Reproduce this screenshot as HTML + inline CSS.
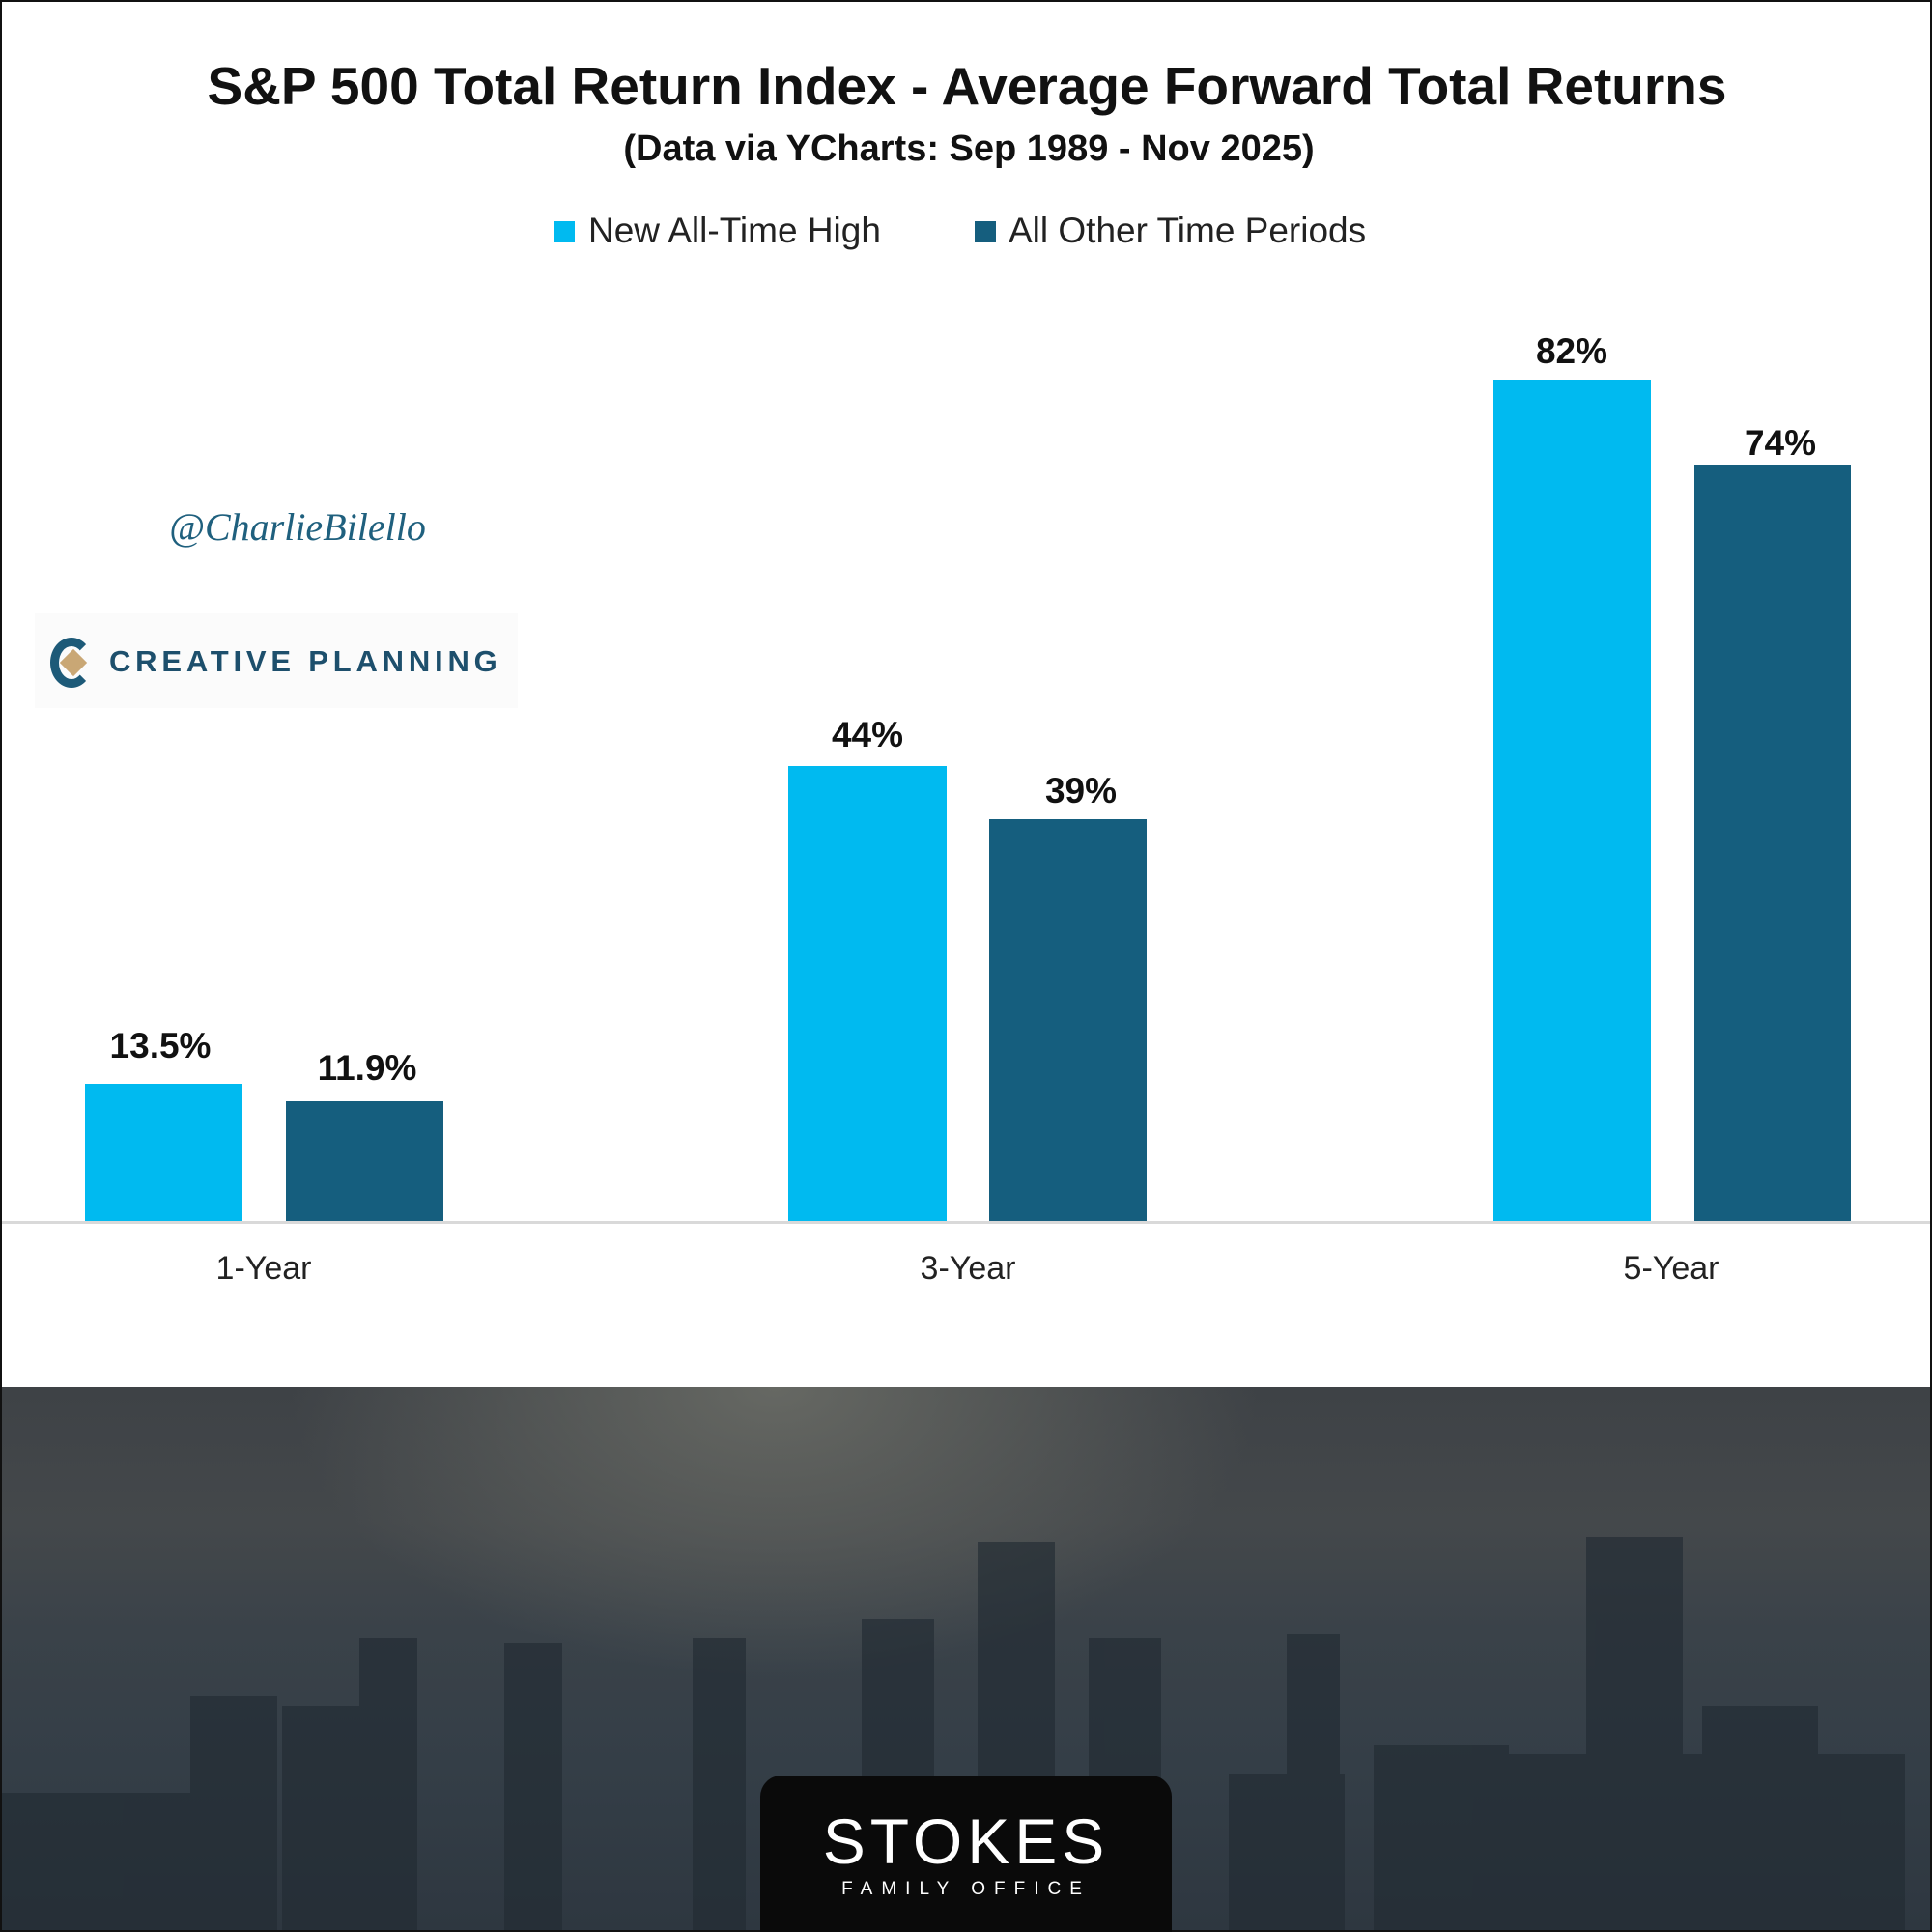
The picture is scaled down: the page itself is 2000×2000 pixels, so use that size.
<!DOCTYPE html>
<html><head><meta charset="utf-8"><style>
html,body{margin:0;padding:0}
body{width:2000px;height:2000px;position:relative;overflow:hidden;background:#fff;font-family:"Liberation Sans",sans-serif}
.t{position:absolute;white-space:nowrap;transform:translateX(-50%);color:#111}
.b{position:absolute}
.l{background:#00baf0}.d{background:#155e7e}
.v{position:absolute;transform:translateX(-50%);font-weight:bold;font-size:37px;color:#111}
</style></head><body>
<div style="position:absolute;left:0;top:0;width:1996px;height:1996px;border:2px solid #111"></div>
<div class="t" style="left:1001px;top:57px;font-size:55px;font-weight:bold">S&amp;P 500 Total Return Index - Average Forward Total Returns</div>
<div class="t" style="left:1003px;top:133px;font-size:38px;font-weight:bold">(Data via YCharts: Sep 1989 - Nov 2025)</div>
<div class="b l" style="left:573px;top:229px;width:22px;height:22px"></div>
<div class="b" style="left:609px;top:218px;font-size:37px;color:#222">New All-Time High</div>
<div class="b d" style="left:1009px;top:229px;width:22px;height:22px"></div>
<div class="b" style="left:1044px;top:218px;font-size:37px;color:#222">All Other Time Periods</div>
<div class="t" style="left:308px;top:522px;font-size:40px;font-style:italic;color:#1f607e;font-family:'Liberation Serif',serif">@CharlieBilello</div>
<div class="b" style="left:36px;top:635px;width:500px;height:98px;background:#fbfbfb"></div>
<div class="b" style="left:52px;top:660px;width:44px;height:52px;border-radius:50%;border:9px solid #1d5a78;border-right-color:transparent;box-sizing:border-box"></div>
<div class="b" style="left:66px;top:676px;width:20px;height:20px;background:#c9a775;transform:rotate(45deg)"></div>
<div class="b" style="left:113px;top:667px;font-size:31px;font-weight:bold;letter-spacing:4.8px;color:#1d4f6c">CREATIVE PLANNING</div>
<div class="b l" style="left:88px;top:1122px;width:163px;height:143px"></div>
<div class="b d" style="left:296px;top:1140px;width:163px;height:125px"></div>
<div class="b l" style="left:816px;top:793px;width:164px;height:472px"></div>
<div class="b d" style="left:1024px;top:848px;width:163px;height:417px"></div>
<div class="b l" style="left:1546px;top:393px;width:163px;height:872px"></div>
<div class="b d" style="left:1754px;top:481px;width:162px;height:784px"></div>
<div class="v" style="left:166px;top:1062px">13.5%</div>
<div class="v" style="left:380px;top:1085px">11.9%</div>
<div class="v" style="left:898px;top:740px">44%</div>
<div class="v" style="left:1119px;top:798px">39%</div>
<div class="v" style="left:1627px;top:343px">82%</div>
<div class="v" style="left:1843px;top:438px">74%</div>
<div class="b" style="left:2px;top:1264px;width:1996px;height:3px;background:#d9d9d9"></div>
<div class="t" style="left:273px;top:1294px;font-size:34px;color:#222">1-Year</div>
<div class="t" style="left:1002px;top:1294px;font-size:34px;color:#222">3-Year</div>
<div class="t" style="left:1730px;top:1294px;font-size:34px;color:#222">5-Year</div>
<div class="b" style="left:2px;top:1436px;width:1996px;height:562px;background:radial-gradient(ellipse 500px 300px at 800px 0,#666863,rgba(80,80,80,0)),linear-gradient(#3e4246 0%,#44484b 25%,#3a4249 45%,#343e47 70%,#2e3740 100%)"></div>
<svg class="b" style="left:2px;top:1436px" width="1996" height="562">
<g fill="#222b33" opacity="0.65">
<rect x="195" y="320" width="90" height="242"/><rect x="290" y="330" width="110" height="232"/>
<rect x="370" y="260" width="60" height="302"/><rect x="520" y="265" width="60" height="297"/>
<rect x="715" y="260" width="55" height="302"/><rect x="890" y="240" width="75" height="322"/>
<rect x="1010" y="160" width="80" height="402"/><rect x="1125" y="260" width="75" height="302"/>
<rect x="1330" y="255" width="55" height="307"/><rect x="1270" y="400" width="120" height="162"/>
<rect x="1420" y="370" width="140" height="192"/><rect x="1640" y="155" width="100" height="407"/>
<rect x="1560" y="380" width="200" height="182"/><rect x="1760" y="330" width="120" height="232"/>
<rect x="1880" y="380" width="90" height="182"/><rect x="0" y="420" width="200" height="142"/>
</g>
</svg>
<div class="b" style="left:787px;top:1838px;width:426px;height:162px;background:#0a0a0a;border-radius:22px 22px 0 0"></div>
<div class="t" style="left:1000px;top:1868px;font-size:66px;color:#fff;letter-spacing:5px">STOKES</div>
<div class="t" style="left:1000px;top:1945px;font-size:19px;color:#fff;letter-spacing:9px">FAMILY OFFICE</div>
</body></html>
